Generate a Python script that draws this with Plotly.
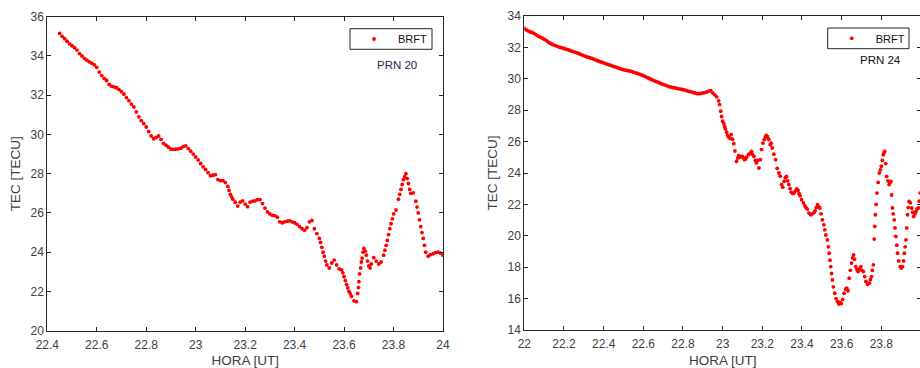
import plotly.graph_objects as go

# ---------------- PRN 20 (left panel) ----------------
hora_20 = [
    22.45, 22.46, 22.47, 22.48, 22.49, 22.50, 22.51, 22.52, 22.53, 22.54,
    22.55, 22.56, 22.57, 22.58, 22.59, 22.60, 22.61, 22.62, 22.63, 22.64,
    22.65, 22.66, 22.67, 22.68, 22.69, 22.70, 22.71, 22.72, 22.73, 22.74,
    22.75, 22.76, 22.77, 22.78, 22.79, 22.80, 22.81, 22.82, 22.83, 22.84,
    22.85, 22.86, 22.87, 22.88, 22.89, 22.90, 22.91, 22.92, 22.93, 22.94,
    22.95, 22.96, 22.97, 22.98, 22.99, 23.00, 23.01, 23.02, 23.03, 23.04,
    23.05, 23.06, 23.07, 23.08, 23.09, 23.10, 23.11, 23.12, 23.13, 23.135,
    23.14, 23.145, 23.15, 23.16, 23.17, 23.18, 23.19, 23.20, 23.21, 23.22,
    23.23, 23.24, 23.25, 23.26, 23.27, 23.28, 23.29, 23.30, 23.31, 23.32,
    23.33, 23.34, 23.35, 23.36, 23.37, 23.38, 23.39, 23.40, 23.41, 23.42,
    23.43, 23.44, 23.45, 23.46, 23.47, 23.48, 23.49, 23.50, 23.505, 23.51,
    23.515, 23.52, 23.525, 23.53, 23.54, 23.55, 23.56, 23.57, 23.58, 23.59,
    23.595, 23.60, 23.605, 23.61, 23.615, 23.62, 23.625, 23.63, 23.64, 23.65,
    23.655, 23.658, 23.66, 23.663, 23.667, 23.67, 23.673, 23.677, 23.68, 23.685,
    23.69, 23.695, 23.70, 23.705, 23.71, 23.72, 23.73, 23.74, 23.75, 23.76,
    23.765, 23.77, 23.775, 23.78, 23.785, 23.79, 23.795, 23.80, 23.81, 23.82,
    23.825, 23.83, 23.835, 23.84, 23.845, 23.85, 23.855, 23.86, 23.865, 23.87,
    23.88, 23.89, 23.895, 23.90, 23.905, 23.91, 23.915, 23.92, 23.925, 23.93,
    23.94, 23.95, 23.96, 23.97, 23.98, 23.99, 24.00,
]
tec_20 = [
    35.15, 35.00, 34.88, 34.75, 34.62, 34.52, 34.42, 34.30, 34.12, 34.00,
    33.88, 33.78, 33.70, 33.63, 33.55, 33.42, 33.18, 33.00, 32.85, 32.75,
    32.55, 32.45, 32.42, 32.38, 32.28, 32.18, 32.05, 31.88, 31.72, 31.55,
    31.40, 31.15, 30.90, 30.70, 30.55, 30.38, 30.15, 29.92, 29.78, 29.85,
    29.92, 29.75, 29.55, 29.45, 29.35, 29.25, 29.24, 29.25, 29.27, 29.30,
    29.38, 29.42, 29.28, 29.15, 29.00, 28.85, 28.70, 28.52, 28.35, 28.22,
    28.05, 27.90, 27.92, 27.95, 27.70, 27.65, 27.65, 27.55, 27.35, 27.15,
    26.95, 26.82, 26.70, 26.55, 26.35, 26.55, 26.62, 26.45, 26.32, 26.55,
    26.60, 26.62, 26.68, 26.68, 26.48, 26.25, 26.05, 25.95, 25.88, 25.86,
    25.78, 25.55, 25.50, 25.55, 25.58, 25.60, 25.55, 25.50, 25.42, 25.30,
    25.20, 25.12, 25.25, 25.55, 25.62, 25.20, 24.95, 24.70, 24.50, 24.25,
    24.00, 23.80, 23.55, 23.35, 23.20, 23.45, 23.60, 23.35, 23.15, 23.10,
    22.95, 22.75, 22.55, 22.35, 22.18, 22.00, 21.88, 21.75, 21.52, 21.48,
    21.90, 22.20, 22.50, 22.90, 23.20, 23.50, 23.70, 24.00, 24.20, 24.05,
    23.85, 23.55, 23.30, 23.20, 23.40, 23.72, 23.55, 23.40, 23.50, 23.85,
    24.10, 24.35, 24.60, 24.90, 25.20, 25.45, 25.70, 25.95, 26.15, 26.70,
    26.95, 27.20, 27.45, 27.70, 27.85, 28.00, 27.75, 27.50, 27.20, 27.00,
    27.02, 26.60, 26.30, 26.00, 25.65, 25.30, 25.00, 24.70, 24.35, 24.00,
    23.80, 23.88, 23.92, 23.98, 24.00, 23.95, 23.85,
]

# ---------------- PRN 24 (right panel) ----------------
hora_24 = [
    22.00, 22.01, 22.02, 22.03, 22.04, 22.05, 22.06, 22.07, 22.08, 22.09,
    22.10, 22.11, 22.12, 22.13, 22.14, 22.15, 22.16, 22.17, 22.18, 22.19,
    22.20, 22.21, 22.22, 22.23, 22.24, 22.25, 22.26, 22.27, 22.28, 22.29,
    22.30, 22.31, 22.32, 22.33, 22.34, 22.35, 22.36, 22.37, 22.38, 22.39,
    22.40, 22.41, 22.42, 22.43, 22.44, 22.45, 22.46, 22.47, 22.48, 22.49,
    22.50, 22.51, 22.52, 22.53, 22.54, 22.55, 22.56, 22.57, 22.58, 22.59,
    22.60, 22.61, 22.62, 22.63, 22.64, 22.65, 22.66, 22.67, 22.68, 22.69,
    22.70, 22.71, 22.72, 22.73, 22.74, 22.75, 22.76, 22.77, 22.78, 22.79,
    22.80, 22.81, 22.82, 22.83, 22.84, 22.85, 22.86, 22.87, 22.88, 22.89,
    22.90, 22.91, 22.92, 22.93, 22.94, 22.95, 22.96, 22.97,
    22.98, 22.985, 22.99, 22.995, 23.0, 23.006, 23.01, 23.014, 23.02, 23.025,
    23.03, 23.037, 23.043, 23.05, 23.056, 23.062, 23.07, 23.075, 23.08, 23.085,
    23.09, 23.1, 23.105, 23.11, 23.115, 23.12, 23.13, 23.138, 23.145, 23.15,
    23.158, 23.165, 23.17, 23.175, 23.183, 23.19, 23.196, 23.203, 23.21, 23.215,
    23.22, 23.227, 23.233, 23.24, 23.245, 23.25, 23.258, 23.267, 23.275, 23.284,
    23.29, 23.297, 23.303, 23.31, 23.316, 23.322, 23.328, 23.334, 23.34, 23.346,
    23.353, 23.36, 23.366, 23.373, 23.38, 23.385, 23.39, 23.398, 23.407, 23.415,
    23.42, 23.427, 23.435, 23.444, 23.452, 23.461, 23.466, 23.472, 23.478, 23.484,
    23.49, 23.496, 23.503, 23.51, 23.515, 23.52, 23.528, 23.533, 23.537, 23.541,
    23.545, 23.549, 23.553, 23.558, 23.565, 23.572, 23.579, 23.586, 23.592, 23.598,
    23.605, 23.612, 23.62, 23.626, 23.632, 23.638, 23.644, 23.65, 23.655, 23.66,
    23.665, 23.671, 23.677, 23.683, 23.69, 23.697, 23.703, 23.71, 23.716, 23.722,
    23.73, 23.74, 23.745, 23.75, 23.755, 23.76, 23.764, 23.767, 23.77, 23.774,
    23.778, 23.784, 23.79, 23.795, 23.8, 23.805, 23.81, 23.814, 23.817, 23.822,
    23.827, 23.833, 23.839, 23.844, 23.848, 23.852, 23.856, 23.86, 23.865, 23.869,
    23.873, 23.878, 23.882, 23.888, 23.895, 23.9, 23.907, 23.912, 23.916, 23.92,
    23.924, 23.928, 23.932, 23.936, 23.94, 23.946, 23.953, 23.958, 23.963, 23.97,
    23.975, 23.98, 23.986, 23.991, 23.996,
]
tec_24 = [
    33.21, 33.12, 33.05, 32.98, 32.95, 32.88, 32.80, 32.72, 32.65, 32.60,
    32.52, 32.45, 32.35, 32.27, 32.20, 32.15, 32.10, 32.05, 32.00, 31.97,
    31.93, 31.89, 31.85, 31.81, 31.76, 31.72, 31.68, 31.63, 31.58, 31.53,
    31.48, 31.43, 31.38, 31.34, 31.30, 31.25, 31.20, 31.15, 31.10, 31.06,
    31.02, 30.97, 30.92, 30.88, 30.84, 30.79, 30.75, 30.71, 30.66, 30.62,
    30.58, 30.55, 30.53, 30.50, 30.47, 30.43, 30.38, 30.34, 30.30, 30.25,
    30.20, 30.14, 30.08, 30.02, 29.96, 29.90, 29.85, 29.80, 29.75, 29.69,
    29.64, 29.60, 29.55, 29.50, 29.47, 29.44, 29.42, 29.39, 29.36, 29.34,
    29.31, 29.28, 29.24, 29.20, 29.17, 29.14, 29.10, 29.06, 29.05, 29.07,
    29.10, 29.12, 29.16, 29.22, 29.25, 29.10, 28.98, 28.85,
    28.60, 28.36, 27.94, 27.60, 27.30, 27.15, 26.95, 26.81, 26.60, 26.40,
    26.30, 26.20, 26.45, 26.15, 25.87, 25.40, 24.74, 24.95, 25.11, 25.00,
    25.05, 25.06, 24.95, 24.85, 24.89, 25.00, 25.17, 25.25, 25.38, 25.20,
    25.06, 24.80, 24.64, 24.80, 24.32, 24.85, 25.49, 25.90, 26.13, 26.30,
    26.40, 26.30, 26.13, 25.80, 25.90, 25.60, 25.20, 24.85, 24.30, 24.00,
    23.80, 23.26, 23.10, 23.47, 23.70, 23.79, 23.50, 23.26, 23.00, 22.77,
    22.70, 22.72, 22.85, 22.98, 22.90, 22.70, 22.55, 22.30, 22.09, 21.90,
    21.80, 21.70, 21.45, 21.34, 21.40, 21.49, 21.60, 21.80, 21.98, 21.85,
    21.77, 21.40, 21.02, 20.70, 20.38, 20.05, 19.74, 19.30, 18.89, 18.45,
    18.04, 17.60, 17.19, 16.75, 16.34, 16.00, 15.81, 15.65, 15.75, 15.68,
    15.95, 16.34, 16.60, 16.66, 16.50, 17.30, 17.80, 18.26, 18.60, 18.79,
    18.50, 18.04, 17.85, 17.72, 17.90, 18.04, 17.80, 17.72, 17.40, 17.09,
    16.90, 16.98, 17.20, 17.40, 17.80, 18.15, 19.79, 20.60, 21.34, 22.00,
    22.72, 23.40, 24.00, 24.20, 24.43, 24.80, 25.17, 25.30, 25.38, 24.60,
    23.79, 23.50, 23.26, 23.40, 23.47, 22.60, 21.77, 21.40, 21.02, 20.50,
    19.96, 19.40, 18.89, 18.40, 18.04, 17.95, 18.04, 18.40, 18.89, 19.30,
    19.74, 20.50, 21.34, 21.80, 22.19, 22.10, 21.77, 21.50, 21.23, 21.40,
    21.55, 21.70, 21.77, 22.20, 22.72,
]

xticks_20 = [22.4, 22.6, 22.8, 23, 23.2, 23.4, 23.6, 23.8, 24]
xlabels_20 = ["22.4", "22.6", "22.8", "23", "23.2", "23.4", "23.6", "23.8", "24"]
yticks_20 = [20, 22, 24, 26, 28, 30, 32, 34, 36]
xticks_24 = [22, 22.2, 22.4, 22.6, 22.8, 23, 23.2, 23.4, 23.6, 23.8, 24]
xlabels_24 = ["22", "22.2", "22.4", "22.6", "22.8", "23", "23.2", "23.4", "23.6", "23.8", "24"]
yticks_24 = [14, 16, 18, 20, 22, 24, 26, 28, 30, 32, 34]

W, H = 922, 368
FONT = "Liberation Sans, Arial, Helvetica, sans-serif"
AX = "#262626"
TICKC = "#404040"

fig = go.Figure()
fig.add_trace(go.Scatter(
    x=hora_20, y=tec_20, mode="markers", name="BRFT",
    marker=dict(color="#ff0000", size=3.8, line=dict(width=0)),
    xaxis="x", yaxis="y", legend="legend",
))
fig.add_trace(go.Scatter(
    x=hora_24, y=tec_24, mode="markers", name="BRFT",
    marker=dict(color="#ff0000", size=3.8, line=dict(width=0)),
    xaxis="x2", yaxis="y2", legend="legend2",
))

def xa(domain, ticks, labels, rng, anchor):
    return dict(domain=domain, range=rng, tickvals=ticks, ticktext=labels,
                showline=True, linecolor=AX, linewidth=1, mirror="ticks",
                ticks="inside", ticklen=4, tickcolor=AX, showgrid=False, zeroline=False,
                tickfont=dict(family=FONT, size=12, color=TICKC), automargin=False,
                ticklabelstandoff=3,
                title=dict(text="HORA [UT]", font=dict(family=FONT, size=13.5, color=TICKC), standoff=6),
                anchor=anchor)

def ya(domain, ticks, rng, anchor):
    return dict(domain=domain, range=rng, tickvals=ticks,
                showline=True, linecolor=AX, linewidth=1, mirror="ticks",
                ticks="inside", ticklen=4, tickcolor=AX, showgrid=False, zeroline=False,
                tickfont=dict(family=FONT, size=12, color=TICKC), automargin=False,
                title=dict(text="TEC [TECU]", font=dict(family=FONT, size=13.5, color=TICKC), standoff=6),
                anchor=anchor)

# legend frames (x0, x1, top, bottom in pixels)
box_20 = (350, 432, 28.7, 49.3)
box_24 = (827.7, 909, 28, 48.7)

def legend_cfg(box):
    x0, x1, top, bot = box
    return dict(x=x0 / W, xanchor="left", y=1 - (top + bot) / 2 / H, yanchor="middle",
                borderwidth=0, bgcolor="rgba(0,0,0,0)",
                font=dict(family=FONT, size=11, color="#111111"), itemwidth=38)

def frame(box):
    x0, x1, top, bot = box
    return dict(type="rect", xref="paper", yref="paper",
                x0=x0 / W, x1=x1 / W, y0=1 - bot / H, y1=1 - top / H,
                line=dict(color=AX, width=1), fillcolor="white", layer="below")

fig.update_layout(
    width=W, height=H,
    margin=dict(l=0, r=0, t=0, b=0),
    paper_bgcolor="white", plot_bgcolor="rgba(0,0,0,0)",
    font=dict(family=FONT),
    xaxis=xa([47.3 / W, 443 / W], xticks_20, xlabels_20, [22.4, 24], "y"),
    yaxis=ya([(H - 330.7) / H, (H - 16.7) / H], yticks_20, [20, 36], "x"),
    xaxis2=xa([524.3 / W, 921 / W], xticks_24, xlabels_24, [22, 24], "y2"),
    yaxis2=ya([(H - 330) / H, (H - 16) / H], yticks_24, [14, 34], "x2"),
    legend=legend_cfg(box_20),
    legend2=legend_cfg(box_24),
    showlegend=True,
    shapes=[frame(box_20), frame(box_24)],
    annotations=[
        dict(text="PRN 20", x=397 / W, y=1 - 65 / H, xref="paper", yref="paper",
             xanchor="center", yanchor="middle",
             showarrow=False, font=dict(family=FONT, size=11.5, color="#1f2450")),
        dict(text="PRN 24", x=880 / W, y=1 - 60 / H, xref="paper", yref="paper",
             xanchor="center", yanchor="middle",
             showarrow=False, font=dict(family=FONT, size=11.5, color="#111111")),
    ],
)

fig.write_html(
    "out.html",
    config={"displayModeBar": False},
    post_script="document.body.style.margin='0';document.body.style.overflow='hidden';",
)
